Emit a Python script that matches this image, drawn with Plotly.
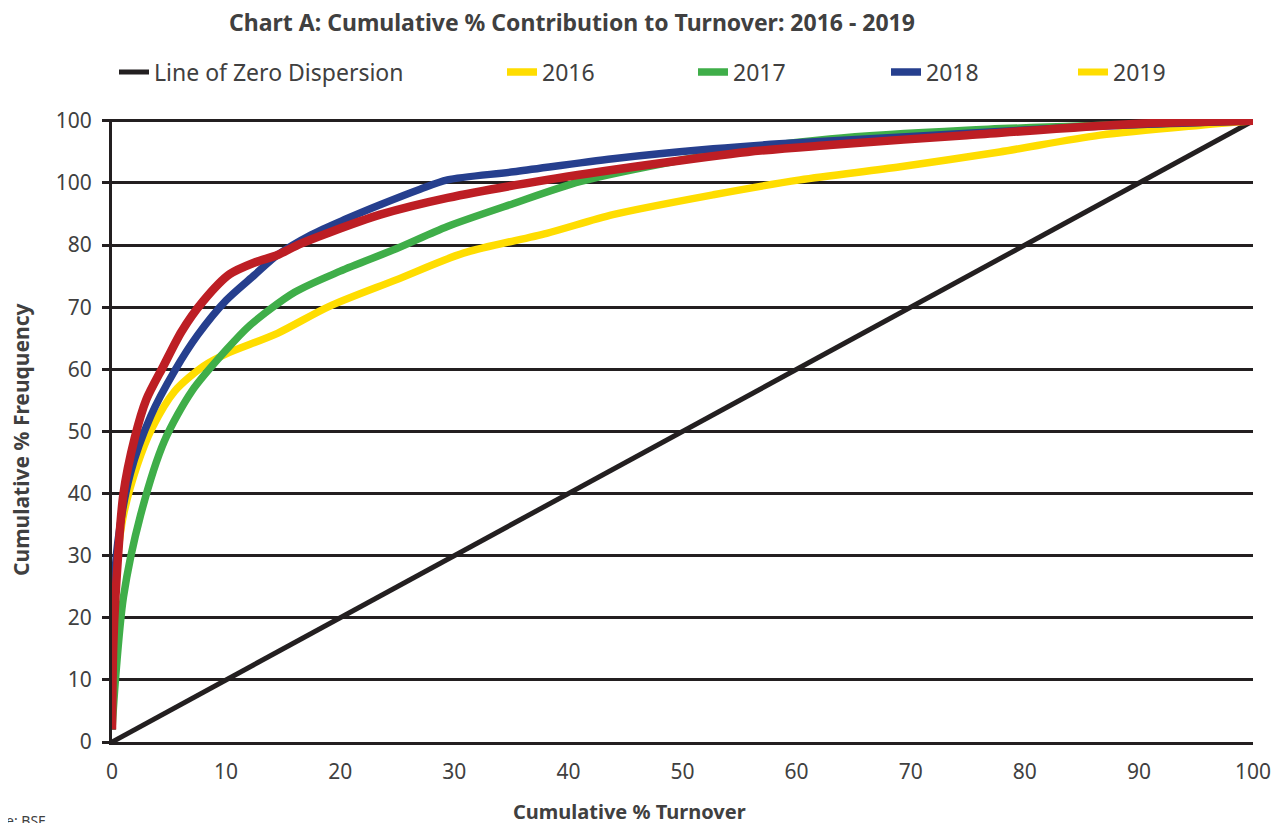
import plotly.graph_objects as go

# ---- data ----
zero_x = [0, 100]
zero_y = [0, 100]

x2016 = [0, 0.2, 0.5, 1.0, 2.2, 3.5, 5.5, 8.0, 10.0, 14.5, 19.0, 24.9, 30.8, 38.1, 43.9, 52.7, 60.3, 69.1, 77.8, 86.6, 95.4, 100]
y2016 = [2, 20, 30, 36.5, 44.5, 50.5, 56.5, 60.5, 62.5, 65.8, 70.1, 74.4, 78.7, 81.9, 84.9, 88.1, 90.5, 92.6, 95.0, 97.7, 99.3, 100]

x2017 = [0, 0.3, 1.0, 2.5, 4.6, 7.0, 10.0, 12.1, 16.0, 20.0, 24.9, 29.4, 35.2, 41.0, 46.9, 55.7, 62.9, 74.9, 87.0, 100]
y2017 = [2, 10, 23.3, 36.5, 48.5, 56.5, 63.1, 67.1, 72.4, 75.8, 79.4, 83.0, 86.7, 90.2, 92.6, 95.5, 97.1, 98.5, 99.3, 100]

x2018 = [0, 0.15, 0.5, 1.6, 3.4, 5.5, 7.5, 10.0, 12.5, 14.5, 17.5, 20.5, 23.5, 27.0, 29.4, 35.2, 43.9, 52.7, 58.5, 70.0, 85.0, 100]
y2018 = [2, 23.3, 32, 43.2, 52.5, 59.8, 65.5, 71.1, 75.2, 78.4, 81.7, 84.2, 86.5, 89.0, 90.5, 91.8, 93.9, 95.5, 96.3, 97.5, 99.0, 100]

x2019 = [0, 0.1, 0.3, 1.0, 2.0, 3.0, 4.5, 6.1, 8.0, 10.3, 12.5, 14.5, 16.5, 19.0, 23.5, 29.4, 38.1, 46.9, 55.7, 62.9, 74.9, 89.5, 100]
y2019 = [2, 15, 23.3, 39.9, 49, 55.1, 60.5, 66.1, 71, 75.3, 77.2, 78.4, 80.2, 82, 84.9, 87.6, 90.5, 92.9, 95.0, 96.1, 97.7, 99.5, 100]

x_ticks = [0, 10, 20, 30, 40, 50, 60, 70, 80, 90, 100]
x_ticktext = ["0", "10", "20", "30", "40", "50", "60", "70", "80", "90", "100"]
y_ticks = [0, 10, 20, 30, 40, 50, 60, 70, 80, 90, 100]
y_ticktext = ["0", "10", "20", "30", "40", "50", "60", "70", "80", "100", "100"]

title_text = "Chart A: Cumulative % Contribution to Turnover: 2016 - 2019"
xtitle = "Cumulative % Turnover"
ytitle = "Cumulative % Freuquency"
source_text = "Source: BSE"

BLACK = "#231f20"
YELLOW = "#ffdd00"
GREEN = "#3fae49"
BLUE = "#263f8e"
RED = "#bd1e24"
TXT = "#404040"
FONT = "Noto Sans"

# ---- geometry (page pixels); the page body has an 8px margin ----
OFF = 8
PAGE_W, PAGE_H = 1286, 823
PL, PR, PT, PB = 112, 1253, 119, 742
W, H = PAGE_W - OFF, PAGE_H - OFF
PW, PH = PR - PL, PB - PT

def px_x(p):
    return (p - PL) / PW

def px_y(p):
    return (PB - p) / PH

fig = go.Figure()

fig.add_trace(go.Scatter(x=zero_x, y=zero_y, mode="lines", name="Line of Zero Dispersion",
                         line=dict(color=BLACK, width=5), legend="legend"))
fig.add_trace(go.Scatter(x=x2016, y=y2016, mode="lines", name="2016",
                         line=dict(color=YELLOW, width=7.5, shape="spline", smoothing=0.8), legend="legend2"))
fig.add_trace(go.Scatter(x=x2017, y=y2017, mode="lines", name="2017",
                         line=dict(color=GREEN, width=7.5, shape="spline", smoothing=0.8), legend="legend3"))
fig.add_trace(go.Scatter(x=x2018, y=y2018, mode="lines", name="2018",
                         line=dict(color=BLUE, width=7.5, shape="spline", smoothing=0.8), legend="legend4"))
fig.add_trace(go.Scatter(x=x2019, y=y2019, mode="lines", name="2019", showlegend=False,
                         line=dict(color=RED, width=8.5, shape="spline", smoothing=0.8)))
# legend entry for 2019 as shown in the reference (yellow swatch)
fig.add_trace(go.Scatter(x=[None], y=[None], mode="lines", name="2019",
                         line=dict(color=YELLOW, width=7), legend="legend5"))

leg_common = dict(orientation="h", yanchor="middle", y=px_y(72), xanchor="left",
                  font=dict(family=FONT, size=23, color=TXT), bgcolor="rgba(0,0,0,0)",
                  borderwidth=0, itemwidth=30, tracegroupgap=0)

fig.update_layout(
    width=W, height=H,
    margin=dict(l=PL - OFF, r=PAGE_W - PR, t=PT - OFF, b=PAGE_H - PB),
    paper_bgcolor="white", plot_bgcolor="white",
    font=dict(family=FONT, color=TXT),
    title=dict(text="<b>" + title_text + "</b>", x=(572 - OFF) / W, xanchor="center", xref="container",
               y=1 - (23 - OFF) / H, yanchor="middle", yref="container",
               font=dict(family=FONT, size=23, color=TXT)),
    legend=dict(x=px_x(114), **leg_common),
    legend2=dict(x=px_x(502), **leg_common),
    legend3=dict(x=px_x(693), **leg_common),
    legend4=dict(x=px_x(886), **leg_common),
    legend5=dict(x=px_x(1073), **leg_common),
    xaxis=dict(range=[0, 100], tickvals=x_ticks, ticktext=x_ticktext, showgrid=False,
               zeroline=False, showline=True, linecolor=BLACK, linewidth=2.5,
               ticks="", tickfont=dict(family=FONT, size=21, color=TXT), ticklabelstandoff=9),
    yaxis=dict(range=[0, 100.3], tickvals=y_ticks, ticktext=y_ticktext, showgrid=True,
               gridcolor=BLACK, gridwidth=2.5, zeroline=False, showline=True,
               linecolor=BLACK, linewidth=3, ticks="outside", ticklen=7, tickwidth=2.5,
               tickcolor=BLACK, tickfont=dict(family=FONT, size=21, color=TXT),
               ticklabelstandoff=6),
    showlegend=True,
)

fig.add_annotation(text="<b>" + xtitle + "</b>", xref="paper", yref="paper",
                   x=px_x(629), y=px_y(811), xanchor="center", yanchor="middle",
                   showarrow=False, font=dict(family=FONT, size=20, color=TXT))
fig.add_annotation(text="<b>" + ytitle + "</b>", xref="paper", yref="paper",
                   x=px_x(21), y=px_y(440), xanchor="center", yanchor="middle", textangle=-90,
                   showarrow=False, font=dict(family=FONT, size=21, color=TXT))
fig.add_annotation(text=source_text, xref="paper", yref="paper",
                   x=px_x(48), y=px_y(820), xanchor="right", yanchor="middle",
                   showarrow=False, font=dict(family=FONT, size=14, color=TXT))

fig.write_html("out.html")
